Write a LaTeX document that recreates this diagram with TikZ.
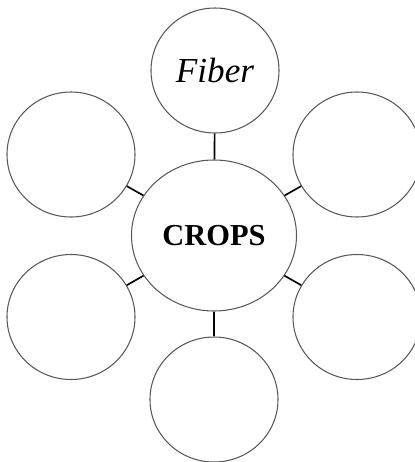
\documentclass[tikz,border=0pt]{standalone}
\usepackage{fontspec}
\setmainfont{Liberation Serif}
\usetikzlibrary{shapes,positioning}
\tikzstyle{bubble} = [draw=black!65,line width=0.9pt,ellipse,inner sep=0,minimum width=3.84cm,minimum height=3.75cm,fill=white]
\tikzstyle{hub} = [bubble,minimum width=4.95cm,minimum height=4.53cm,font=\bfseries\fontsize{26}{30}\selectfont]
\tikzstyle{link} = [-,line width=1.4pt]
\def \topfont {\itshape\fontsize{30}{36}\selectfont}

\begin{document}
\begin{tikzpicture}[x=0.03cm,y=-0.03cm]
  \useasboundingbox (0,0) rectangle (415,462);
  \node[hub] (crops) at (214,235.5) {CROPS};
  \node[bubble,font=\topfont] (fiber) at (215,70.5) {Fiber};
  \node[bubble] (upleft) at (71,154.5) {};
  \node[bubble] (upright) at (357,154.5) {};
  \node[bubble] (lowleft) at (71,317) {};
  \node[bubble] (lowright) at (357,317) {};
  \node[bubble] (bottom) at (214,399.5) {};
  % spokes
  \foreach \n in {fiber,upleft,upright,lowleft,lowright,bottom}
    \draw[link] (crops) -- (\n);
\end{tikzpicture}
\end{document}
